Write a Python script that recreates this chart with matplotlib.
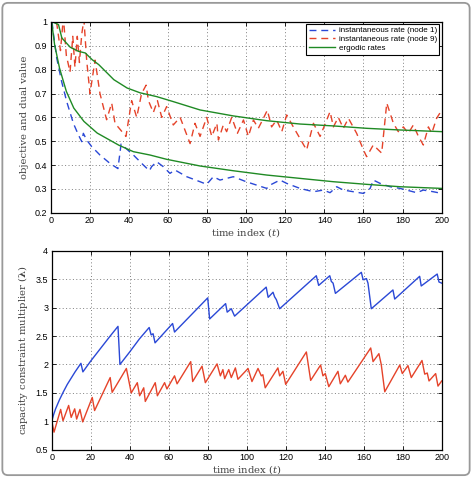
import matplotlib
matplotlib.use("Agg")
import matplotlib.pyplot as plt
from matplotlib.patches import FancyBboxPatch
from matplotlib.ticker import FuncFormatter

# ---------------- data ----------------
# top panel: instantaneous rate of node 1 (blue dashed)
t_rate1 = [0, 1.4, 3.1, 5.6, 8.2, 11.6, 14.2, 15.9, 16.7, 18.4, 21, 25.2, 30.3, 34.4,
           36.0, 42.3, 47.4, 50.5, 51.6, 54.2, 57.6, 61, 63.6, 69.6, 76.4, 79.8, 83.2,
           86.6, 90, 93.4, 100, 110.5, 112.2, 115.6, 117.3, 120.7, 127.5, 134.4, 139.5,
           142.9, 146.3, 149.7, 154.8, 160, 163.4, 165, 168.5, 173.6, 178.7, 187.2,
           190.6, 195.7, 200]
rate1 = [1.05, 0.95, 0.848, 0.75, 0.666, 0.575, 0.526, 0.498, 0.533, 0.505, 0.477, 0.442,
         0.407, 0.385, 0.488, 0.442, 0.40, 0.376, 0.393, 0.414, 0.393, 0.365, 0.379, 0.351,
         0.33, 0.319, 0.351, 0.337, 0.344, 0.351, 0.33, 0.302, 0.316, 0.33, 0.337, 0.323,
         0.302, 0.288, 0.295, 0.284, 0.309, 0.295, 0.288, 0.281, 0.302, 0.337, 0.323,
         0.309, 0.302, 0.284, 0.295, 0.288, 0.281]

# top panel: instantaneous rate of node 9 (red dashed)
t_rate9 = [0, 3, 5, 6.5, 8, 9.9, 11.3, 12.4, 13.6, 14.7, 15.9, 17, 18.4, 20.1, 22.7,
           25.2, 28.6, 31.2, 32.9, 38.5, 41.4, 44, 46.5, 48.8, 50, 52.5, 54.6, 56.8,
           59.3, 62.7, 66.2, 71.3, 73.8, 76.4, 79.8, 82.4, 85, 85.8, 88.3, 90, 92.6,
           95.5, 98.6, 101.1, 103.7, 106.2, 108.8, 110.8, 113, 115.6, 118.2, 120.7,
           124.1, 130.9, 134.4, 137.8, 142.9, 144.6, 147.1, 149.7, 152.3, 156.5, 160,
           161.6, 165, 169.3, 171.9, 175.3, 177.8, 180.4, 182.9, 185.5, 188.1, 190.6,
           193.2, 194.9, 197.4, 200]
rate9 = [1.1, 1.0, 0.88, 1.02, 0.86, 0.79, 0.94, 0.81, 0.94, 0.83, 0.95, 1.01, 0.84,
         0.70, 0.84, 0.70, 0.59, 0.66, 0.575, 0.52, 0.67, 0.60, 0.70, 0.735, 0.67, 0.62,
         0.67, 0.60, 0.645, 0.568, 0.60, 0.49, 0.575, 0.52, 0.60, 0.52, 0.575, 0.505,
         0.568, 0.54, 0.60, 0.533, 0.589, 0.52, 0.589, 0.554, 0.596, 0.63, 0.56, 0.589,
         0.54, 0.61, 0.56, 0.463, 0.575, 0.52, 0.624, 0.56, 0.60, 0.554, 0.596, 0.533,
         0.463, 0.435, 0.484, 0.45, 0.66, 0.575, 0.54, 0.56, 0.533, 0.568, 0.52, 0.484,
         0.56, 0.533, 0.596, 0.63]

# top panel: ergodic rates (green)
t_erg_hi = [0, 1, 4, 5.7, 10, 14.2, 17.7, 21.2, 24.6, 32.3, 39.1, 45.7, 54.2, 62.7,
            76.4, 93.4, 110.5, 127.5, 144.6, 161.6, 178.7, 200]
erg_hi = [1.1, 1.0, 0.989, 0.933, 0.894, 0.877, 0.87, 0.842, 0.821, 0.758, 0.723, 0.703,
          0.687, 0.666, 0.631, 0.606, 0.586, 0.572, 0.564, 0.554, 0.547, 0.54]
t_erg_lo = [0, 0.5, 2, 4.5, 8, 11.8, 17, 23.8, 34.9, 42.3, 50.8, 59.3, 76.4, 93.4,
            110.5, 127.5, 144.6, 161.6, 178.7, 200]
erg_lo = [1.05, 1.0, 0.905, 0.807, 0.709, 0.639, 0.583, 0.534, 0.483, 0.456, 0.442,
          0.424, 0.396, 0.376, 0.358, 0.344, 0.33, 0.319, 0.309, 0.302]

# bottom panel: capacity constraint multiplier, node 1 (blue)
t_lam1 = [0, 1, 2, 4, 6, 8, 10, 12, 15, 16, 20, 25, 30, 34, 35, 40, 45, 50, 51, 52, 53,
          62, 63, 80, 81, 89.2, 90, 92.1, 93.8, 110, 111, 113.5, 114.3, 115.2, 116.9,
          135.7, 136.9, 142.6, 143.4, 144.3, 145.5, 158.8, 159.7, 161.4, 162.2, 163.9,
          175, 175.9, 188.7, 189.5, 197.7, 198.6, 200]
lam1 = [1.0, 1.12, 1.22, 1.38, 1.52, 1.65, 1.76, 1.87, 2.02, 1.87, 2.06, 2.28, 2.50,
        2.67, 2.0, 2.22, 2.45, 2.65, 2.52, 2.54, 2.38, 2.72, 2.57, 3.17, 2.80, 3.07, 2.92,
        2.98, 2.85, 3.36, 3.18, 3.27, 3.19, 3.14, 2.98, 3.56, 3.39, 3.56, 3.46, 3.43,
        3.25, 3.62, 3.49, 3.51, 3.43, 2.98, 3.31, 3.15, 3.55, 3.38, 3.59, 3.45, 3.43]

# bottom panel: capacity constraint multiplier, node 9 (red)
t_lam9 = [0, 1.2, 4.6, 5.8, 8.7, 10, 11.8, 12.8, 14.5, 15.9, 20.8, 22, 30, 31, 38.3,
          40.8, 43.9, 45.1, 47.2, 48, 53.1, 54.2, 57.9, 59.1, 63, 64.3, 71.3, 72.3, 77.1,
          78.8, 84.8, 86.5, 87.8, 88.7, 90.8, 92.1, 94.2, 95.5, 100.7, 102.7, 105.8,
          107.5, 108.3, 109.5, 116, 116.9, 118.6, 120, 130.6, 132.8, 137.9, 139.1, 140.3,
          142.1, 146.8, 148, 150.6, 151.9, 163.6, 164.8, 167.8, 169, 170.8, 178.5, 179.8,
          182.7, 184.4, 189.9, 191.3, 192.6, 193.5, 196.9, 198.1, 200]
lam9 = [1.01, 0.81, 1.21, 1.01, 1.28, 1.07, 1.22, 1.04, 1.21, 0.99, 1.42, 1.19, 1.77,
        1.51, 1.93, 1.50, 1.68, 1.45, 1.59, 1.35, 1.68, 1.45, 1.68, 1.57, 1.80, 1.66,
        2.05, 1.70, 1.97, 1.68, 2.01, 1.80, 1.91, 1.75, 1.91, 1.77, 1.94, 1.74, 1.93,
        1.70, 1.93, 1.80, 1.82, 1.59, 1.94, 1.80, 1.88, 1.65, 2.22, 1.72, 1.99, 1.80,
        1.84, 1.61, 1.88, 1.66, 1.81, 1.69, 2.29, 2.05, 2.19, 2.0, 1.52, 1.99, 1.84,
        1.98, 1.77, 2.07, 1.83, 1.85, 1.71, 1.84, 1.62, 1.71]

legend_labels = ["instantaneous rate (node 1)", "instantaneous rate (node 9)", "ergodic rates"]
top_yticks = [0.2, 0.3, 0.4, 0.5, 0.6, 0.7, 0.8, 0.9, 1.0]
bottom_yticks = [0.5, 1, 1.5, 2, 2.5, 3, 3.5, 4]
xticks = [0, 20, 40, 60, 80, 100, 120, 140, 160, 180, 200]

# ---------------- styling ----------------
BLUE = "#2a48d6"
RED = "#e5432a"
GREEN = "#1f8a24"
plt.rcParams["font.family"] = ["Liberation Sans", "DejaVu Sans"]
plt.rcParams["mathtext.fontset"] = "dejavuserif"

fig = plt.figure(figsize=(4.72, 4.78), dpi=100)
fig.patches.append(FancyBboxPatch((0.005, 0.006), 0.99, 0.988,
                                  boxstyle="round,pad=0,rounding_size=0.012",
                                  transform=fig.transFigure, fc="white",
                                  ec="0.6", lw=1.3, zorder=-10))

ax1 = fig.add_axes([0.1074, 0.555, 0.8284, 0.399])
ax2 = fig.add_axes([0.1095, 0.0590, 0.8263, 0.4165])

fmt = FuncFormatter(lambda v, p: ("%g" % round(v, 3)))

def style(ax, yticks, ylabel):
    ax.set_xlim(0, 200)
    ax.set_xticks(xticks)
    ax.set_yticks(yticks)
    ax.set_ylim(yticks[0], yticks[-1])
    ax.yaxis.set_major_formatter(fmt)
    ax.grid(True, linestyle=(0, (1, 2.5)), color="0.5", lw=0.7)
    ax.tick_params(direction="in", top=True, right=True, labelsize=6.5,
                   length=3, width=0.6, pad=2.5)
    for s in ax.spines.values():
        s.set_linewidth(0.9)
    ax.set_xlabel(r"time index ($t$)", family="DejaVu Serif", fontsize=7.2,
                  labelpad=0.5, color="0.25")
    ax.set_ylabel(ylabel, family="DejaVu Serif", fontsize=7.2, labelpad=4, color="0.25")

dash = (0, (5, 3.5))
ax1.plot(t_rate1, rate1, color=BLUE, lw=1.0, linestyle=dash, label=legend_labels[0])
ax1.plot(t_rate9, rate9, color=RED, lw=1.0, linestyle=dash, label=legend_labels[1])
ax1.plot(t_erg_hi, erg_hi, color=GREEN, lw=1.0, label=legend_labels[2])
ax1.plot(t_erg_lo, erg_lo, color=GREEN, lw=1.0)
style(ax1, top_yticks, "objective and dual value")
leg = ax1.legend(loc="upper right", fontsize=5.8, frameon=True, fancybox=False,
                 edgecolor="black", framealpha=1, borderpad=0.3, labelspacing=0.15,
                 handlelength=3.2, handletextpad=0.5, borderaxespad=0.3)
leg.get_frame().set_linewidth(0.8)

ax2.plot(t_lam1, lam1, color=BLUE, lw=1.0)
ax2.plot(t_lam9, lam9, color=RED, lw=1.0)
style(ax2, bottom_yticks, r"capacity constraint multiplier ($\mathbf{\lambda}$)")

fig.savefig("out.png", dpi=100)
